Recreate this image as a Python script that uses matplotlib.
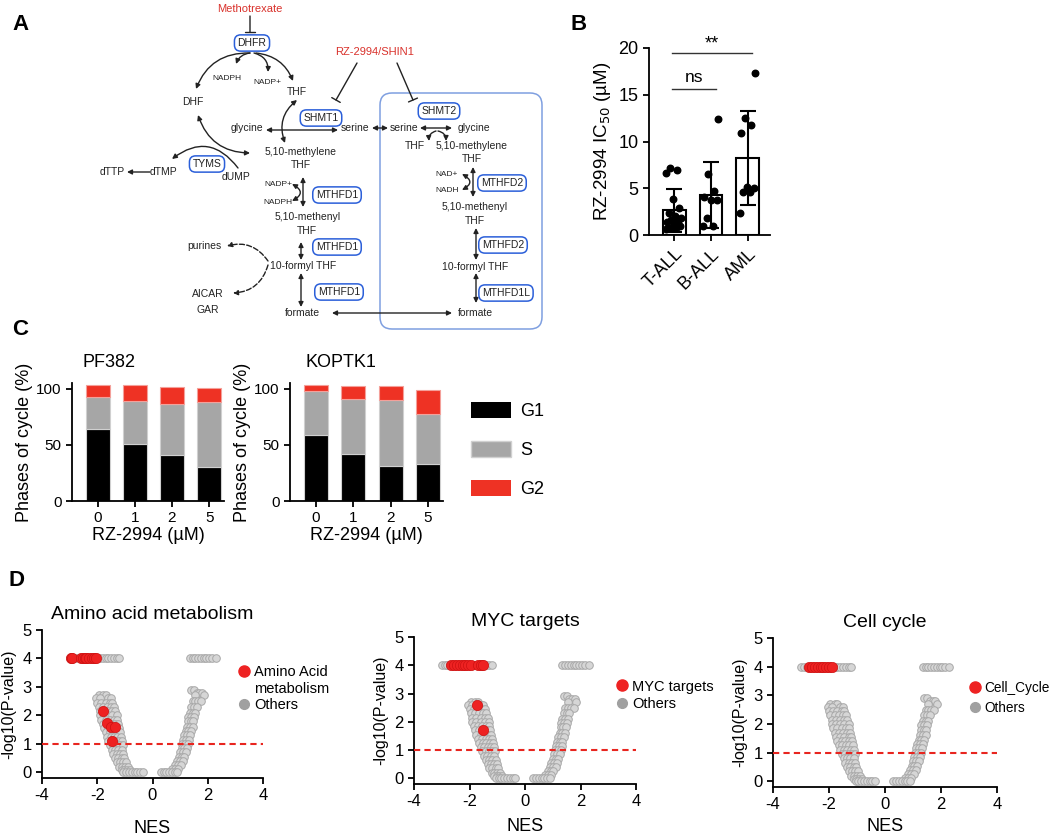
import numpy as np
import matplotlib
matplotlib.use("Agg")
import matplotlib.pyplot as plt
from matplotlib.patches import FancyBboxPatch, Patch
from matplotlib.lines import Line2D

plt.rcParams['font.family'] = ['Liberation Sans', 'DejaVu Sans']
plt.rcParams['axes.unicode_minus'] = False

# ---- data ----
# panel B: IC50 values per leukemia type
b_groups = ['T-ALL', 'B-ALL', 'AML']
tall_ic50 = [7.2, 6.9, 6.6, 3.8, 2.9, 2.3, 2.0, 1.8, 1.6, 1.4, 1.2, 1.0, 0.8, 0.7, 0.6, 1.5]
ball_ic50 = [12.4, 6.5, 4.7, 4.1, 3.7, 3.7, 1.8, 1.0, 1.0]
aml_ic50 = [17.3, 12.5, 11.8, 10.9, 5.1, 5.0, 4.6, 4.6, 2.3]

# panel C: cell cycle phases
doses = ['0', '1', '2', '5']
pf382_g1 = [64, 51, 41, 30]
pf382_s = [28.5, 38, 45, 58]
pf382_g2 = [11, 14, 15.5, 12.8]
koptk1_g1 = [59, 42, 31, 33]
koptk1_s = [39, 48.5, 58.5, 44]
koptk1_g2 = [5, 11.5, 12.5, 22]

# panel D: background gene sets (NES, -log10 p)
top_left_nes = [-3.0, -2.9, -2.8, -2.7, -2.6, -2.5, -2.4, -2.3, -2.2, -2.1, -2.0,
                -1.9, -1.8, -1.7, -1.6, -1.5, -1.4, -1.3, -1.2]
top_right_nes = [1.35, 1.45, 1.55, 1.65, 1.75, 1.85, 1.95, 2.05, 2.15, 2.3]
band_left_logp = [2.7, 2.6, 2.45, 2.3, 2.15, 2.0, 1.85, 1.7, 1.55, 1.4, 1.25, 1.1,
                  0.95, 0.8, 0.65, 0.5, 0.35, 0.2, 0.08, 0.0]
band_left_nes = [[-1.95, -1.8, -1.7],
                 [-2.05, -1.9, -1.6, -1.5],
                 [-2.0, -1.85, -1.7, -1.55, -1.45],
                 [-1.95, -1.8, -1.65, -1.5, -1.4],
                 [-1.9, -1.75, -1.6, -1.45, -1.35],
                 [-1.9, -1.75, -1.6, -1.45, -1.3],
                 [-1.85, -1.7, -1.55, -1.4, -1.28],
                 [-1.8, -1.65, -1.5, -1.35, -1.25],
                 [-1.75, -1.6, -1.45, -1.3, -1.22],
                 [-1.7, -1.55, -1.42, -1.3, -1.18],
                 [-1.65, -1.52, -1.4, -1.27, -1.15],
                 [-1.6, -1.47, -1.35, -1.22, -1.12],
                 [-1.55, -1.42, -1.3, -1.18, -1.08],
                 [-1.48, -1.36, -1.24, -1.12],
                 [-1.42, -1.3, -1.18, -1.06],
                 [-1.35, -1.24, -1.12, -1.02],
                 [-1.28, -1.18, -1.06, -0.96],
                 [-1.2, -1.1, -1.0, -0.9],
                 [-1.12, -1.02, -0.92, -0.82],
                 [-1.05, -0.95, -0.85, -0.75, -0.65, -0.55, -0.45, -0.35]]
band_right_logp = [2.9, 2.8, 2.7, 2.5, 2.3, 2.1, 1.95, 1.8, 1.6, 1.45, 1.3, 1.15,
                   1.0, 0.85, 0.7, 0.55, 0.4, 0.25, 0.12, 0.0]
band_right_nes = [[1.4, 1.5],
                  [1.6, 1.7, 1.8],
                  [1.55, 1.85],
                  [1.45, 1.55, 1.65, 1.75],
                  [1.4, 1.5, 1.6],
                  [1.35, 1.45, 1.55],
                  [1.3, 1.4, 1.5],
                  [1.28, 1.38, 1.48],
                  [1.25, 1.35, 1.45],
                  [1.2, 1.3, 1.4],
                  [1.15, 1.25, 1.35],
                  [1.12, 1.22, 1.32],
                  [1.08, 1.18, 1.28],
                  [1.05, 1.15, 1.25],
                  [1.0, 1.1, 1.2],
                  [0.95, 1.05, 1.15],
                  [0.9, 1.0, 1.1],
                  [0.82, 0.92, 1.02],
                  [0.72, 0.82, 0.92],
                  [0.3, 0.4, 0.5, 0.6, 0.7, 0.8, 0.9]]

# highlighted gene sets
aa_nes = [-2.95, -2.9, -2.6, -2.5, -2.45, -2.4, -2.3, -2.2, -2.1, -2.05, -1.8, -1.63, -1.5, -1.37, -1.45]
aa_logp = [4, 4, 4, 4, 4, 4, 4, 4, 4, 4, 2.15, 1.75, 1.58, 1.6, 1.1]
myc_nes = [-2.65, -2.55, -2.45, -2.35, -2.25, -2.15, -2.05, -1.95, -1.7, -1.6, -1.5, -1.73, -1.52]
myc_logp = [4, 4, 4, 4, 4, 4, 4, 4, 4, 4, 4, 2.6, 1.72]
cc_nes = [-2.7, -2.6, -2.5, -2.4, -2.3, -2.2, -2.1, -2.0, -1.9]
cc_logp = [4, 4, 4, 4, 4, 4, 4, 4, 4]

W, H = 1050, 836
fig = plt.figure(figsize=(10.5, 8.36), dpi=100)


def fax(l, t, r, b):
    return fig.add_axes([l / W, 1 - b / H, (r - l) / W, (b - t) / H])


def style(ax):
    ax.spines['top'].set_visible(False)
    ax.spines['right'].set_visible(False)
    for s in ['left', 'bottom']:
        ax.spines[s].set_linewidth(1.3)
    ax.tick_params(width=1.3, length=4)


# ---------------- panel A: pathway diagram ----------------
axa = fax(0, 0, 560, 335)
axa.set_xlim(0, 560)
axa.set_ylim(335, 0)
axa.axis('off')
INK = '#222222'
RED = '#d9312b'
BLUE = '#2b5fd9'


def lab(x, y, s, fs=7.5, color=INK):
    axa.text(x, y, s, ha='center', va='center', fontsize=fs, color=color)


def box(x, y, s):
    axa.text(x, y, s, ha='center', va='center', fontsize=7.5, color=INK,
             bbox=dict(boxstyle='round,pad=0.3,rounding_size=0.6', ec=BLUE, fc='white', lw=1.1))


def arr(x1, y1, x2, y2, st='-|>', rad=0.0, ls='-'):
    axa.annotate('', xy=(x2, y2), xytext=(x1, y1),
                 arrowprops=dict(arrowstyle=st, connectionstyle='arc3,rad=%s' % rad,
                                 lw=1.0, color=INK, linestyle=ls, shrinkA=0, shrinkB=0,
                                 mutation_scale=7))


def inhibit(x1, y1, x2, y2):
    axa.annotate('', xy=(x2, y2), xytext=(x1, y1),
                 arrowprops=dict(arrowstyle='-[, widthB=0.35, lengthB=0', lw=1.0,
                                 color=INK, shrinkA=0, shrinkB=0))


axa.add_patch(FancyBboxPatch((380, 93), 162, 236, boxstyle='round,pad=0,rounding_size=12',
                             ec='#7f9fe0', fc='none', lw=1.1))
lab(250, 9, 'Methotrexate', 8, RED)
inhibit(250, 16, 250, 32)
box(252, 43, 'DHFR')
arr(250, 53, 196, 89, rad=0.35)
arr(250, 53, 236, 64, rad=0.3)
arr(254, 53, 268, 72, rad=-0.4)
arr(256, 53, 293, 81, rad=-0.3)
lab(227, 79, 'NADPH', 6)
lab(267, 83, 'NADP+', 6)
lab(297, 92, 'THF')
lab(193, 102, 'DHF')
lab(375, 52, 'RZ-2994/SHIN1', 8, RED)
inhibit(357, 63, 336, 100)
inhibit(397, 63, 413, 100)
box(321, 118, 'SHMT1')
lab(247, 128, 'glycine')
arr(266, 130, 338, 130, st='<|-|>')
lab(355, 128, 'serine')
arr(372, 128, 388, 128, st='<|-|>')
lab(404, 128, 'serine')
arr(420, 128, 452, 128, st='<|-|>')
lab(474, 128, 'glycine')
arr(285, 143, 297, 100, st='<|-|>', rad=-0.35)
lab(301, 152, '5,10-methylene')
lab(301, 165, 'THF')
arr(250, 153, 198, 115, st='<|-|>', rad=-0.35)
arr(238, 168, 172, 159, rad=0.5)
box(207, 164, 'TYMS')
lab(112, 172, 'dTTP')
arr(150, 172, 127, 172)
lab(163, 172, 'dTMP')
lab(236, 177, 'dUMP')
arr(303, 177, 303, 207, st='<|-|>')
lab(278, 184, 'NADP+', 6)
lab(278, 203, 'NADPH', 6)
arr(292, 184, 292, 201, st='<|-|>', rad=-0.9)
box(337, 195, 'MTHFD1')
lab(308, 217, '5,10-methenyl')
lab(307, 231, 'THF')
arr(301, 242, 301, 260, st='<|-|>')
box(337, 247, 'MTHFD1')
lab(303, 266, '10-formyl THF')
arr(301, 273, 301, 307, st='<|-|>')
box(339, 292, 'MTHFD1')
lab(302, 313, 'formate')
arr(332, 313, 452, 313, st='<|-|>')
lab(475, 313, 'formate')
lab(204, 246, 'purines')
lab(208, 294, 'AICAR')
lab(208, 310, 'GAR')
arr(268, 261, 227, 246, rad=0.35, ls='--')
arr(268, 265, 233, 293, rad=-0.35, ls='--')
box(439, 111, 'SHMT2')
arr(436, 131, 429, 141, rad=0.4)
arr(438, 131, 446, 141, rad=-0.4)
lab(415, 146, 'THF')
lab(472, 146, '5,10-methylene')
lab(472, 159, 'THF')
arr(473, 167, 473, 197, st='<|-|>')
lab(447, 174, 'NAD+', 6)
lab(447, 191, 'NADH', 6)
arr(462, 174, 462, 190, st='<|-|>', rad=-0.9)
box(502, 183, 'MTHFD2')
lab(475, 207, '5,10-methenyl')
lab(475, 221, 'THF')
arr(476, 228, 476, 260, st='<|-|>')
box(503, 245, 'MTHFD2')
lab(475, 267, '10-formyl THF')
arr(476, 273, 476, 303, st='<|-|>')
box(506, 293, 'MTHFD1L')

# ---------------- panel B ----------------
axb = fax(649, 48, 770, 235)
style(axb)
b_data = [tall_ic50, ball_ic50, aml_ic50]
b_x = np.arange(3)
b_mean = [np.mean(v) for v in b_data]
b_sd = [np.std(v, ddof=1) for v in b_data]
axb.bar(b_x, b_mean, width=0.62, facecolor='white', edgecolor='black', lw=1.5, zorder=1)
axb.errorbar(b_x, b_mean, yerr=b_sd, fmt='none', ecolor='black', capsize=6, elinewidth=1.5,
             capthick=1.5, zorder=3)
for i, v in enumerate(b_data):
    v = np.array(v)
    order = np.argsort(np.argsort(v))
    off = ((order * 0.618) % 1 - 0.5) * 0.45
    axb.scatter(i + off, v, s=22, color='black', zorder=4)
axb.set_xlim(-0.68, 2.6)
axb.set_ylim(0, 20)
axb.set_yticks([0, 5, 10, 15, 20])
axb.set_xticks(b_x)
axb.set_xticklabels(b_groups, rotation=45, ha='right', rotation_mode='anchor', fontsize=13)
axb.tick_params(axis='y', labelsize=13)
axb.set_ylabel('RZ-2994 IC$_{50}$ (µM)', fontsize=13.5)
axb.plot([-0.05, 2.1], [19.5, 19.5], color='#333', lw=1)
axb.plot([-0.05, 1.14], [15.6, 15.6], color='#333', lw=1)
axb.text(1.02, 20.4, '**', ha='center', va='center', fontsize=13)
axb.text(0.55, 16.8, 'ns', ha='center', va='center', fontsize=12.5)

# ---------------- panel C ----------------
C_BLACK, C_GRAY, C_RED = 'black', '#a6a6a6', '#ee3224'


def cycle_panel(ax, g1, s, g2, title, tx):
    style(ax)
    x = np.arange(len(doses))
    g1 = np.array(g1)
    s = np.array(s)
    ax.bar(x, g1, width=0.64, color=C_BLACK, edgecolor='#d0d0d0', lw=0.8)
    ax.bar(x, s, bottom=g1, width=0.64, color=C_GRAY, edgecolor='#d0d0d0', lw=0.8)
    ax.bar(x, g2, bottom=g1 + s, width=0.64, color=C_RED, edgecolor='#f4a09a', lw=0.8)
    ax.set_xlim(-0.69, 3.4)
    ax.set_ylim(0, 105)
    ax.set_yticks([0, 50, 100])
    ax.set_xticks(x)
    ax.set_xticklabels(doses)
    ax.tick_params(labelsize=11)
    ax.set_xlabel('RZ-2994 (µM)', fontsize=13, labelpad=1)
    ax.set_ylabel('Phases of cycle (%)', fontsize=13, labelpad=2)
    ax.text(tx, 1.17, title, transform=ax.transAxes, fontsize=13, va='center', ha='left')


axc1 = fax(72, 383, 224, 501)
cycle_panel(axc1, pf382_g1, pf382_s, pf382_g2, 'PF382', 0.07)
axc2 = fax(290, 383, 443, 501)
cycle_panel(axc2, koptk1_g1, koptk1_s, koptk1_g2, 'KOPTK1', 0.1)
fig.legend(handles=[Patch(facecolor=C_BLACK, label='G1'),
                    Patch(facecolor=C_GRAY, edgecolor='#d0d0d0', label='S'),
                    Patch(facecolor=C_RED, label='G2')],
           loc='upper left', bbox_to_anchor=(462 / W, 1 - 393 / H), frameon=False,
           fontsize=13, handlelength=2.2, handleheight=1.0, labelspacing=1.15,
           handletextpad=0.5, borderpad=0)

# ---------------- panel D ----------------
bg_nes = np.concatenate([top_left_nes, top_right_nes] + band_left_nes + band_right_nes)
bg_logp = np.concatenate([np.full(len(top_left_nes), 4.0), np.full(len(top_right_nes), 4.0)]
                         + [np.full(len(r), y) for r, y in zip(band_left_nes, band_left_logp)]
                         + [np.full(len(r), y) for r, y in zip(band_right_nes, band_right_logp)])


def volcano(ax, hl_nes, hl_logp, title, labels, leg_anchor, lpad, lspace, lfs=10.5):
    style(ax)
    ax.scatter(bg_nes, bg_logp, s=30, facecolor='#d6d6d6', edgecolor='#a8a8a8', lw=0.7, zorder=2)
    ax.scatter(hl_nes, hl_logp, s=55, color='#ee2222', edgecolor='#cc1111', lw=0.5, zorder=3)
    ax.axhline(1, color='#e8251f', ls='--', lw=1.5, dashes=(3, 2), zorder=4)
    ax.set_xlim(-4, 4)
    ax.set_ylim(-0.2, 5)
    ax.set_xticks([-4, -2, 0, 2, 4])
    ax.set_yticks([0, 1, 2, 3, 4, 5])
    ax.tick_params(labelsize=12)
    ax.set_xlabel('NES', fontsize=13, labelpad=lpad)
    ax.set_ylabel('-log10(P-value)', fontsize=11.5)
    ax.set_title(title, fontsize=14, pad=8)
    h = [Line2D([], [], ls='', marker='o', ms=8, color='#ee2222', label=labels[0])]
    for extra in labels[1:]:
        h.append(Line2D([], [], ls='', marker='', label=extra))
    h.append(Line2D([], [], ls='', marker='o', ms=7, color='#a0a0a0', label='Others'))
    ax.legend(handles=h, loc='upper left', bbox_to_anchor=leg_anchor, frameon=False,
              fontsize=lfs, handletextpad=0.1, borderpad=0, labelspacing=lspace,
              handlelength=1.2)


axd1 = fax(42, 630, 263, 778)
volcano(axd1, aa_nes, aa_logp, 'Amino acid metabolism', ['Amino Acid', 'metabolism'],
        (0.84, 0.81), 12, 0.15)
axd2 = fax(414, 637, 636, 784)
volcano(axd2, myc_nes, myc_logp, 'MYC targets', ['MYC targets'], (0.865, 0.76), 6, 0.25)
axd3 = fax(773, 638, 997, 787)
volcano(axd3, cc_nes, cc_logp, 'Cell cycle', ['Cell_Cycle'], (0.835, 0.76), 4, 0.45, 9.8)

for s, x, y in [('A', 12, 25), ('B', 570, 25), ('C', 12, 329), ('D', 8, 580)]:
    fig.text(x / W, 1 - y / H, s, fontsize=16, fontweight='bold', va='center', ha='left')

fig.savefig('out.png', dpi=100)
